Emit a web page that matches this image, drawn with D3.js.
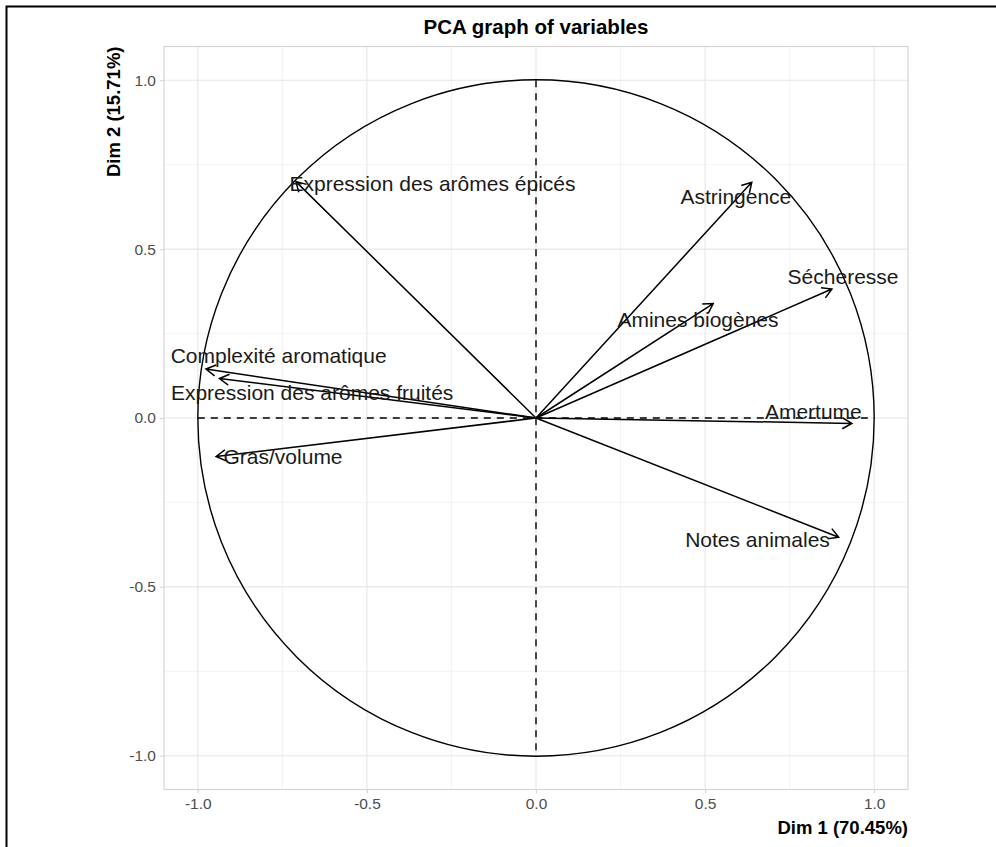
<!DOCTYPE html>
<html><head><meta charset="utf-8">
<script src="https://cdn.jsdelivr.net/npm/d3@7"></script>
<style>body{margin:0;background:#fff}svg{display:block}</style>
</head><body><svg id="c" width="996" height="847"></svg>
<script>
const variables = ["Expression des arômes épicés","Complexité aromatique","Expression des arômes fruités","Gras/volume","Astringence","Sécheresse","Amines biogènes","Amertume","Notes animales"];
const dim1 = [-0.71,-0.976,-0.936,-0.946,0.638,0.875,0.524,0.934,0.895];
const dim2 = [0.70,0.145,0.117,-0.114,0.698,0.382,0.339,-0.016,-0.353];
const labelX = [-0.306,-0.761,-0.662,-0.748,0.591,0.908,0.479,0.82,0.655];
const labelY = [0.695,0.186,0.074,-0.115,0.654,0.42,0.29,0.019,-0.359];
const ticks = [-1.0,-0.5,0.0,0.5,1.0];
const minorTicks = [-0.75,-0.25,0.25,0.75];
const title = "PCA graph of variables";
const xTitle = "Dim 1 (70.45%)";
const yTitle = "Dim 2 (15.71%)";

const svg = d3.select("#c");
const font = "'Liberation Sans', Arial, sans-serif";
svg.append("rect").attr("x",6.5).attr("y",6.5).attr("width",1000).attr("height",1000)
  .attr("fill","none").attr("stroke","#000").attr("stroke-width",2);

const L=164,R=908,T=46.5,B=789.5;
const x = d3.scaleLinear().domain([-1.1,1.1]).range([L,R]);
const y = d3.scaleLinear().domain([-1.1,1.1]).range([B,T]);

const g = svg.append("g");
g.selectAll(".mx").data(minorTicks).join("line").attr("x1",d=>x(d)).attr("x2",d=>x(d)).attr("y1",T).attr("y2",B).attr("stroke","#f0f0f0").attr("stroke-width",0.8);
g.selectAll(".my").data(minorTicks).join("line").attr("y1",d=>y(d)).attr("y2",d=>y(d)).attr("x1",L).attr("x2",R).attr("stroke","#f0f0f0").attr("stroke-width",0.8);
g.selectAll(".Mx").data(ticks).join("line").attr("x1",d=>x(d)).attr("x2",d=>x(d)).attr("y1",T).attr("y2",B).attr("stroke","#e6e6e6").attr("stroke-width",1.1);
g.selectAll(".My").data(ticks).join("line").attr("y1",d=>y(d)).attr("y2",d=>y(d)).attr("x1",L).attr("x2",R).attr("stroke","#e6e6e6").attr("stroke-width",1.1);
g.append("rect").attr("x",L).attr("y",T).attr("width",R-L).attr("height",B-T).attr("fill","none").attr("stroke","#d6d6d6").attr("stroke-width",1.2);

const fmt = d => d3.format(".1f")(d).replace("−","-");
const xa = svg.append("g").attr("transform",`translate(0,${B})`)
  .call(d3.axisBottom(x).tickValues(ticks).tickFormat(fmt).tickSize(4).tickPadding(4));
const ya = svg.append("g").attr("transform",`translate(${L},0)`)
  .call(d3.axisLeft(y).tickValues(ticks).tickFormat(fmt).tickSize(4).tickPadding(4));
[xa,ya].forEach(a=>{
  a.select(".domain").remove();
  a.selectAll(".tick line").attr("stroke","#d6d6d6").attr("stroke-width",1.1);
  a.selectAll(".tick text").attr("fill","#4d4d4d").style("font-family",font).style("font-size","15.5px");
});

g.append("circle").attr("cx",x(0)).attr("cy",y(0)).attr("r",x(1)-x(0)).attr("fill","none").attr("stroke","#000").attr("stroke-width",1.4);
g.append("line").attr("x1",x(-1)).attr("x2",x(1)).attr("y1",y(0)).attr("y2",y(0)).attr("stroke","#000").attr("stroke-width",1.4).attr("stroke-dasharray","7,6");
g.append("line").attr("x1",x(0)).attr("x2",x(0)).attr("y1",y(1)).attr("y2",y(-1)).attr("stroke","#000").attr("stroke-width",1.4).attr("stroke-dasharray","7,6");

const idx = d3.range(variables.length);
const ah = 11, ang = Math.PI/6;
idx.forEach(i=>{
  const x0=x(0),y0=y(0),x1=x(dim1[i]),y1=y(dim2[i]);
  const a=Math.atan2(y1-y0,x1-x0);
  const p = `M${x0},${y0}L${x1},${y1}M${x1-ah*Math.cos(a-ang)},${y1-ah*Math.sin(a-ang)}L${x1},${y1}L${x1-ah*Math.cos(a+ang)},${y1-ah*Math.sin(a+ang)}`;
  g.append("path").attr("d",p).attr("fill","none").attr("stroke","#000").attr("stroke-width",1.5);
});
g.selectAll(".lab").data(idx).join("text")
  .attr("x",i=>x(labelX[i])).attr("y",i=>y(labelY[i])).attr("dy","0.35em")
  .attr("text-anchor","middle").attr("fill","#1a1a1a")
  .style("font-family",font).style("font-size","21px").text(i=>variables[i]);

svg.append("text").attr("x",(L+R)/2).attr("y",34).attr("text-anchor","middle")
  .style("font-family",font).style("font-size","20.5px").style("font-weight","bold").text(title);
svg.append("text").attr("x",R).attr("y",834).attr("text-anchor","end")
  .style("font-family",font).style("font-size","18.5px").style("font-weight","bold").text(xTitle);
svg.append("text").attr("transform",`translate(120,${T}) rotate(-90)`).attr("text-anchor","end")
  .style("font-family",font).style("font-size","18.5px").style("font-weight","bold").text(yTitle);
</script></body></html>
